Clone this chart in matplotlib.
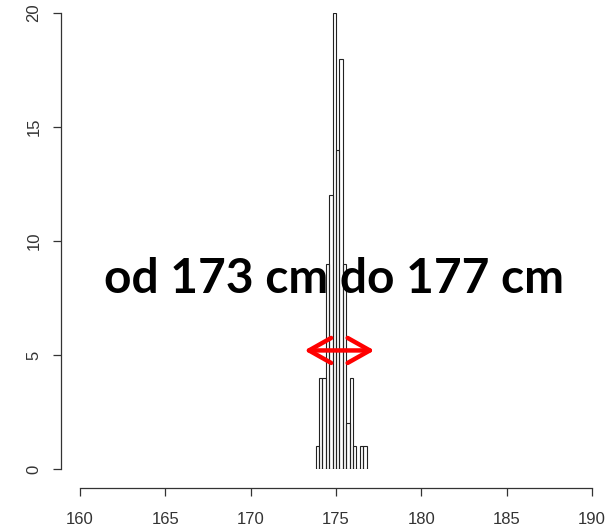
import numpy as np
import matplotlib
matplotlib.use("Agg")
import matplotlib.pyplot as plt

# histogram data (height in cm, bin width 0.2)
bin_edges = [173.8, 174.0, 174.2, 174.4, 174.6, 174.8, 175.0, 175.2,
             175.4, 175.6, 175.8, 176.0, 176.2, 176.4, 176.6, 176.8]
counts = [1, 4, 4, 9, 12, 20, 14, 18, 9, 2, 4, 1, 0, 1, 1]

x_ticks = [160, 165, 170, 175, 180, 185, 190]
y_ticks = [0, 5, 10, 15, 20]

label_text = "od 173 cm do 177 cm"
arrow_from, arrow_to, arrow_y = 173.15, 177.25, 5.2

W, H, DPI = 614, 527, 100
fig = plt.figure(figsize=(W / DPI, H / DPI), dpi=DPI)
ax = fig.add_axes([80 / W, (H - 469) / H, 512 / W, 456 / H])

edges = np.array(bin_edges)
ax.bar(edges[:-1], counts, width=np.diff(edges), align="edge",
       fill=False, edgecolor="#222222", linewidth=0.8)

ax.set_xlim(160, 190)
ax.set_ylim(0, 20)

# R-style detached axes
off = 19 * 72 / DPI
for side in ["top", "right"]:
    ax.spines[side].set_visible(False)
ax.spines["left"].set_position(("outward", off))
ax.spines["bottom"].set_position(("outward", off))
ax.spines["left"].set_bounds(0, 20)
ax.spines["bottom"].set_bounds(160, 190)
for side in ["left", "bottom"]:
    ax.spines[side].set_color("#333333")
    ax.spines[side].set_linewidth(0.9)

ax.set_xticks(x_ticks)
ax.set_yticks(y_ticks)
ax.tick_params(axis="both", length=6, width=0.9, color="#333333",
               labelsize=12, labelcolor="#333333")
ax.tick_params(axis="x", pad=11)
ax.tick_params(axis="y", pad=8)
for lab in ax.get_yticklabels():
    lab.set_rotation(90)
    lab.set_va("center")
for lab in ax.get_xticklabels() + ax.get_yticklabels():
    lab.set_family("Liberation Sans")

ax.text(174.91, 7.72, label_text, ha="center", va="baseline",
        fontsize=34.5, fontweight="bold", family="Lato", color="black")

ax.annotate("", xy=(arrow_to, arrow_y), xytext=(arrow_from, arrow_y),
            arrowprops=dict(arrowstyle="<->,head_length=0.8,head_width=0.45",
                            mutation_scale=20, color="red", lw=3.2,
                            shrinkA=0, shrinkB=0, capstyle="round",
                            joinstyle="round"))

fig.savefig("out.png", dpi=DPI)
